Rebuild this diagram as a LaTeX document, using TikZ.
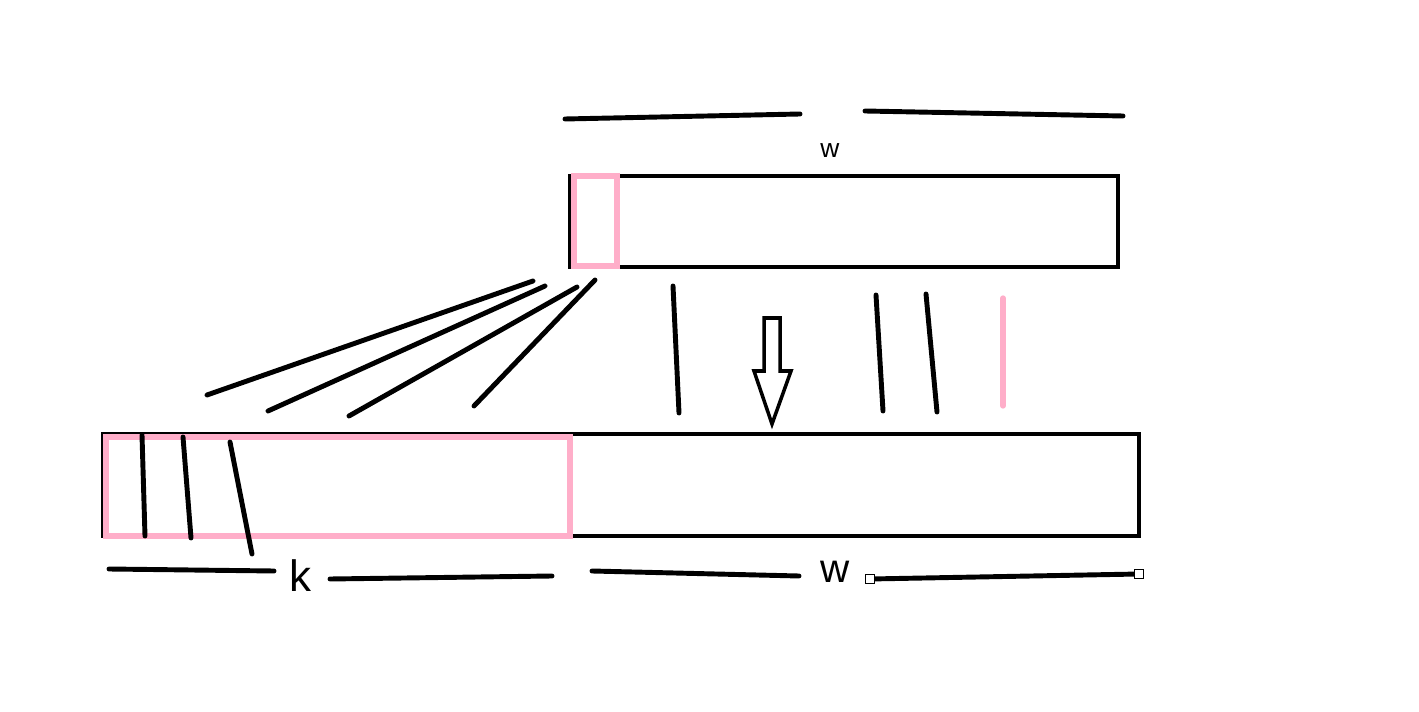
\documentclass[tikz,border=0pt]{standalone}
\usepackage{fontspec}
\setsansfont{Liberation Sans}
\definecolor{SketchPink}{RGB}{255,174,201}
\usetikzlibrary{positioning}

\begin{document}
\begin{tikzpicture}[x=0.02cm, y=-0.02cm,
    stroke/.style={draw=black, line width=2.8pt, line cap=round},
    pinkstroke/.style={draw=SketchPink, line width=3pt},
    frame/.style={draw=black, line width=2.5pt},
    lbl/.style={inner sep=0pt, font=\sffamily},
    handle/.style={draw=black, fill=white, line width=0.6pt,
                   minimum size=0.18cm, inner sep=0pt}
  ]
  \useasboundingbox (0,0) rectangle (1419,712);

  % top strip
  \draw[stroke] (565,119) -- (800,114);
  \draw[stroke] (865,111) -- (1123,116);
  \node[lbl, font=\sffamily\fontsize{15}{15}\selectfont] (wtop) at (830,151) {w};
  \draw[frame] (570,176) rectangle (1118,267);
  \draw[pinkstroke] (574,176) rectangle (617,266);

  % fan out of the pink cell
  \draw[stroke] (533,281) -- (207,395);
  \draw[stroke] (545,286) -- (268,411);
  \draw[stroke] (577,287) -- (349,416);
  \draw[stroke] (595,280) -- (474,406);

  % straight down
  \draw[stroke] (673,286) -- (679,413);
  \draw[stroke] (876,295) -- (883,411);
  \draw[stroke] (926,294) -- (937,412);
  \draw[pinkstroke, line cap=round] (1003,298) -- (1003,406);

  % hollow arrow
  \draw[draw=black, line width=2pt, line join=miter]
    (764,318) -- (780,318) -- (780,371) -- (791,371) -- (772,424)
    -- (754,371) -- (764,371) -- cycle;

  % bottom strip
  \draw[frame] (103,434) rectangle (1139,536);
  \draw[pinkstroke] (106,437) rectangle (570,536);
  \draw[stroke] (142,435) -- (145,536);
  \draw[stroke] (183,437) -- (191,538);
  \draw[stroke] (230,442) -- (252,554);

  % widths below
  \draw[stroke] (109,569) -- (274,571);
  \node[lbl, font=\sffamily\fontsize{25}{25}\selectfont] (k) at (300,576) {k};
  \draw[stroke] (330,579) -- (552,576);
  \draw[stroke] (592,571) -- (799,576);
  \node[lbl, font=\sffamily\fontsize{23}{23}\selectfont] (wbot) at (835,572) {w};
  \node[handle] (hleft) at (870,579) {};
  \node[handle] (hright) at (1139,574) {};
  \draw[stroke, line cap=butt] (hleft) -- (hright);
\end{tikzpicture}
\end{document}
